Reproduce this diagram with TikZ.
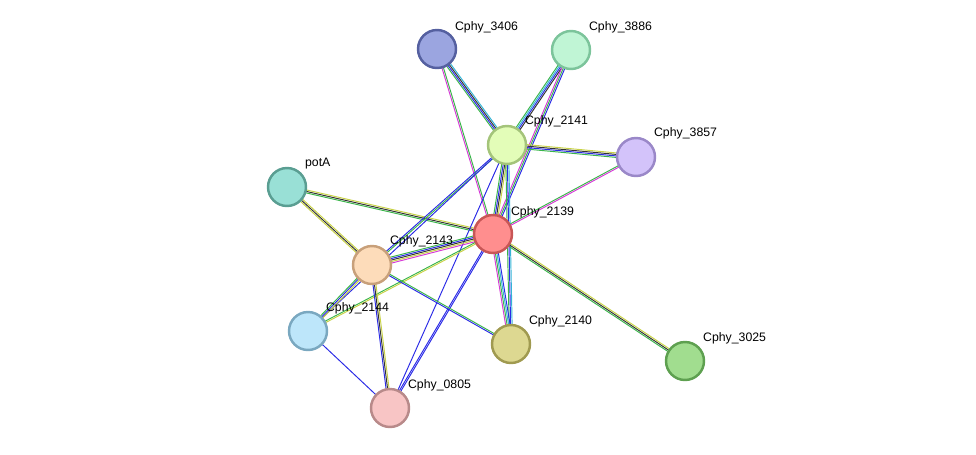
\documentclass[tikz,border=0pt]{standalone}
\usepackage{fontspec}
\setmainfont{Liberation Sans}
\usetikzlibrary{calc}
\usetikzlibrary{positioning}

\definecolor{tmine}{HTML}{C8D246}
\definecolor{nbh}{HTML}{3AB54A}
\definecolor{cooc}{HTML}{2A2AE6}
\definecolor{expm}{HTML}{D63AD6}
\definecolor{dbase}{HTML}{33B4D6}
\definecolor{coex}{HTML}{333333}

\tikzset{
  prot/.style={circle, draw, line width=1.4pt, minimum size=0.76cm, inner sep=0pt},
  lbl/.style={font=\fontsize{7}{8}\selectfont, inner sep=1pt, anchor=south west},
  chan/.style={line width=0.55pt}
}

% one link: parallel strands, one per evidence colour
\newcommand{\link}[3]{%
  \foreach \c [count=\i] in {#3} {\xdef\nstr{\i}}%
  \foreach \c [count=\i] in {#3} {
    \pgfmathsetmacro{\off}{(\i-(\nstr+1)/2)*0.85}
    \draw[chan, \c] ($(#1)!\off pt!90:(#2)$) -- ($(#2)!\off pt!-90:(#1)$);
  }%
}

\begin{document}
\begin{tikzpicture}[x=0.02cm, y=-0.02cm]
  \useasboundingbox (0,0) rectangle (976,454);

  % proteins
  \coordinate (p3406) at (437,49);
  \coordinate (p3886) at (571,50);
  \coordinate (p2141) at (507,145);
  \coordinate (p3857) at (636,157);
  \coordinate (ppotA) at (287,187);
  \coordinate (p2139) at (493,234);
  \coordinate (p2143) at (372,265);
  \coordinate (p2144) at (308,331);
  \coordinate (p2140) at (511,344);
  \coordinate (p3025) at (685,361);
  \coordinate (p0805) at (390,408);

  % links
  \link{p3406}{p2141}{nbh,cooc,coex,dbase}
  \link{p3406}{p2139}{expm,nbh}
  \link{p3886}{p2141}{nbh,dbase,cooc,coex}
  \link{p3886}{p2139}{expm,nbh,cooc}
  \link{p2141}{p3857}{nbh,cooc,coex,tmine}
  \link{p3857}{p2139}{nbh,expm}
  \link{ppotA}{p2139}{nbh,coex,tmine}
  \link{ppotA}{p2143}{tmine,coex,tmine}
  \link{p2141}{p2139}{nbh,cooc,coex,tmine}
  \link{p2141}{p2143}{cooc,nbh}
  \link{p2141}{p2144}{cooc}
  \link{p2141}{p2140}{nbh,cooc,dbase}
  \link{p2141}{p0805}{cooc}
  \link{p2139}{p2143}{nbh,cooc,coex,tmine,expm}
  \link{p2139}{p2144}{nbh,tmine}
  \link{p2139}{p2140}{expm,nbh,dbase,cooc}
  \link{p2139}{p3025}{nbh,coex,tmine}
  \link{p2139}{p0805}{cooc,cooc}
  \link{p2143}{p2144}{nbh,cooc,tmine}
  \link{p2143}{p2140}{cooc,nbh}
  \link{p2143}{p0805}{cooc,coex,tmine}
  \link{p2144}{p0805}{cooc}

  % nodes
  \node[prot, fill={rgb,255:red,155;green,165;blue,224}, draw={rgb,255:red,85;green,96;blue,160}] (n3406) at (p3406) {};
  \node[prot, fill={rgb,255:red,192;green,245;blue,213}, draw={rgb,255:red,124;green,196;blue,155}] (n3886) at (p3886) {};
  \node[prot, fill={rgb,255:red,227;green,253;blue,184}, draw={rgb,255:red,164;green,196;blue,122}] (n2141) at (p2141) {};
  \node[prot, fill={rgb,255:red,211;green,195;blue,250}, draw={rgb,255:red,154;green,136;blue,200}] (n3857) at (p3857) {};
  \node[prot, fill={rgb,255:red,153;green,224;blue,214}, draw={rgb,255:red,90;green,158;blue,146}] (npotA) at (ppotA) {};
  \node[prot, fill={rgb,255:red,255;green,142;blue,142}, draw={rgb,255:red,200;green,86;blue,86}] (n2139) at (p2139) {};
  \node[prot, fill={rgb,255:red,253;green,220;blue,186}, draw={rgb,255:red,200;green,160;blue,122}] (n2143) at (p2143) {};
  \node[prot, fill={rgb,255:red,189;green,230;blue,250}, draw={rgb,255:red,122;green,168;blue,192}] (n2144) at (p2144) {};
  \node[prot, fill={rgb,255:red,221;green,216;blue,145}, draw={rgb,255:red,160;green,154;blue,80}] (n2140) at (p2140) {};
  \node[prot, fill={rgb,255:red,161;green,221;blue,143}, draw={rgb,255:red,94;green,160;blue,80}] (n3025) at (p3025) {};
  \node[prot, fill={rgb,255:red,248;green,197;blue,197}, draw={rgb,255:red,184;green,138;blue,138}] (n0805) at (p0805) {};

  % labels
  \node[lbl] at ($(n3406)+(16,-14)$) {Cphy\_3406};
  \node[lbl] at ($(n3886)+(16,-15)$) {Cphy\_3886};
  \node[lbl] at ($(n2141)+(16,-16)$) {Cphy\_2141};
  \node[lbl] at ($(n3857)+(16,-16)$) {Cphy\_3857};
  \node[lbl] at ($(npotA)+(16,-16)$) {potA};
  \node[lbl] at ($(n2139)+(16,-14)$) {Cphy\_2139};
  \node[lbl] at ($(n2143)+(16,-16)$) {Cphy\_2143};
  \node[lbl] at ($(n2144)+(16,-15)$) {Cphy\_2144};
  \node[lbl] at ($(n2140)+(16,-15)$) {Cphy\_2140};
  \node[lbl] at ($(n3025)+(16,-15)$) {Cphy\_3025};
  \node[lbl] at ($(n0805)+(16,-15)$) {Cphy\_0805};
\end{tikzpicture}
\end{document}
